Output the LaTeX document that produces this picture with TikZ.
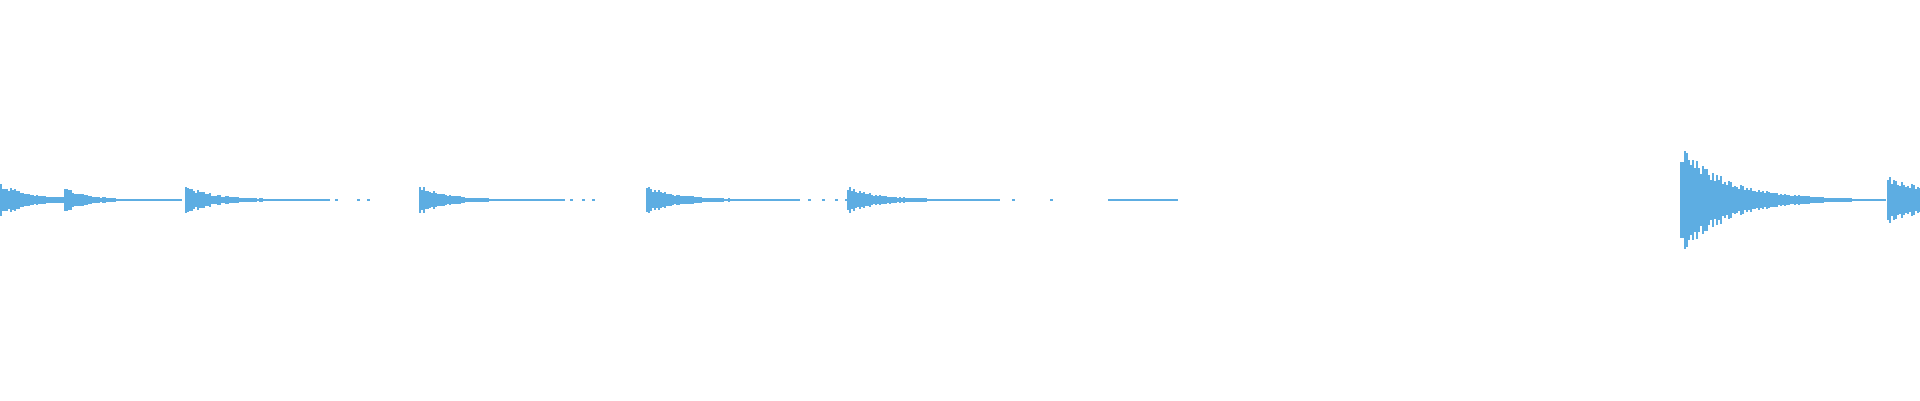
\documentclass[tikz,border=0pt]{standalone}
\usetikzlibrary{calc}
\definecolor{WaveBlue}{HTML}{5DADE2}
\tikzset{
  wave/.style={fill=WaveBlue,draw=none},
  tailline/.style={WaveBlue,line width=1.2pt}
}
% burst: start x, peak amplitude, length, decay
\newcommand{\burst}[4]{%
  \foreach \i in {0,2,...,#3}{%
    \pgfmathsetmacro{\amp}{#2*exp(-\i/#4)*(0.65+0.35*rnd)+0.7}
    \fill[wave] (#1+\i,200-\amp) rectangle (#1+\i+2,200+\amp);
  }}
\begin{document}
\begin{tikzpicture}[x=1pt,y=1pt]
  \pgfmathsetseed{7}
  \useasboundingbox[fill=white] (0,0) rectangle (1920,400);
  % thin tails
  \draw[tailline] (0,200) -- (182,200);
  \draw[tailline] (185,200) -- (330,200);
  \draw[tailline] (419,200) -- (565,200);
  \draw[tailline] (646,200) -- (800,200);
  \draw[tailline] (847,200) -- (1000,200);
  \draw[tailline] (1108,200) -- (1178,200);
  \draw[tailline] (1680,200) -- (1886,200);
  % dots
  \foreach \d in {335,357,367,570,582,592,808,822,835,845,995,1012,1050}
    \fill[wave] (\d,199.4) rectangle (\d+3,200.6);
  % bursts
  \burst{0}{16}{64}{30}
  \burst{64}{12}{50}{22}
  \burst{185}{14}{110}{28}
  \burst{419}{15}{100}{26}
  \burst{646}{14}{110}{30}
  \burst{847}{13}{110}{30}
  \burst{1680}{56}{170}{45}
  \burst{1887}{24}{33}{60}
\end{tikzpicture}
\end{document}
